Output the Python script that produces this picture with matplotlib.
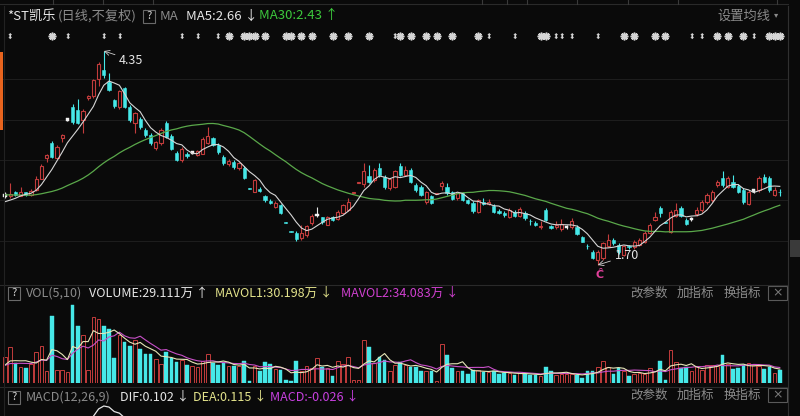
import numpy as np
import pandas as pd
import matplotlib.pyplot as plt
from matplotlib.lines import Line2D
from matplotlib.patches import Rectangle
import matplotlib.transforms as mtransforms

plt.rcParams['font.family'] = ['Noto Sans CJK SC', 'DejaVu Sans']

# daily candles, left to right (price in yuan, volume in 万 shares)
open_ = [2.56, 2.55, 2.60, 2.56, 2.60, 2.57, 2.63, 2.77, 3.02, 3.21,
         3.03, 3.27, 3.50, 3.66, 3.62, 3.50, 3.77, 3.79, 4.00, 4.12,
         3.97, 3.74, 3.66, 3.89, 3.66, 3.46, 3.51, 3.37, 3.31, 3.15,
         3.21, 3.46, 3.30, 3.09, 3.00, 3.07, 3.09, 3.06, 3.08, 3.21,
         3.27, 3.19, 3.04, 2.95, 2.98, 2.90, 2.90, 2.65, 2.61, 2.64,
         2.55, 2.49, 2.42, 2.44, 2.23, 2.12, 2.10, 2.03, 2.07, 2.22,
         2.32, 2.29, 2.20, 2.29, 2.27, 2.34, 2.38, 2.59, 2.72, 2.70,
         2.80, 2.75, 2.90, 2.79, 2.65, 2.67, 2.92, 2.82, 2.88, 2.69,
         2.67, 2.48, 2.55, 2.58, 2.68, 2.66, 2.60, 2.53, 2.59, 2.50,
         2.47, 2.36, 2.48, 2.46, 2.43, 2.37, 2.35, 2.30, 2.36, 2.31,
         2.35, 2.25, 2.22, 2.17, 2.38, 2.18, 2.17, 2.14, 2.17, 2.17,
         2.17, 2.05, 1.94, 1.86, 1.76, 1.79, 1.94, 2.01, 1.95, 1.83,
         1.93, 1.92, 1.95, 1.99, 2.10, 2.26, 2.40, 2.23, 2.11, 2.31,
         2.41, 2.26, 2.27, 2.33, 2.38, 2.48, 2.50, 2.69, 2.78, 2.67,
         2.73, 2.68, 2.63, 2.46, 2.62, 2.63, 2.79, 2.78, 2.57, 2.61]
close = [2.56, 2.58, 2.57, 2.60, 2.57, 2.62, 2.77, 2.92, 3.06, 3.04,
         3.16, 3.31, 3.50, 3.47, 3.46, 3.61, 3.79, 3.99, 4.19, 4.05,
         3.87, 3.67, 3.85, 3.66, 3.49, 3.58, 3.41, 3.31, 3.21, 3.22,
         3.37, 3.29, 3.14, 3.00, 3.14, 3.05, 3.09, 3.11, 3.26, 3.30,
         3.19, 3.10, 2.96, 2.99, 2.91, 2.96, 2.78, 2.64, 2.75, 2.62,
         2.50, 2.47, 2.47, 2.34, 2.22, 2.11, 2.02, 2.10, 2.18, 2.31,
         2.32, 2.23, 2.29, 2.26, 2.36, 2.44, 2.48, 2.60, 2.73, 2.86,
         2.73, 2.88, 2.81, 2.66, 2.76, 2.86, 2.82, 2.88, 2.73, 2.63,
         2.57, 2.60, 2.47, 2.59, 2.72, 2.59, 2.52, 2.59, 2.51, 2.47,
         2.37, 2.50, 2.46, 2.48, 2.36, 2.35, 2.32, 2.38, 2.31, 2.39,
         2.28, 2.24, 2.20, 2.18, 2.26, 2.16, 2.19, 2.21, 2.17, 2.25,
         2.09, 1.99, 1.93, 1.79, 1.86, 1.97, 2.01, 1.97, 1.86, 1.93,
         1.92, 1.99, 2.01, 2.10, 2.20, 2.29, 2.34, 2.22, 2.36, 2.38,
         2.31, 2.21, 2.27, 2.38, 2.48, 2.57, 2.61, 2.73, 2.69, 2.78,
         2.67, 2.61, 2.48, 2.61, 2.62, 2.78, 2.73, 2.63, 2.63, 2.60]
high = [2.60, 2.72, 2.62, 2.67, 2.61, 2.64, 2.80, 2.95, 3.08, 3.24,
        3.18, 3.32, 3.52, 3.70, 3.76, 3.63, 3.80, 4.00, 4.22, 4.35,
        4.08, 3.76, 3.87, 3.90, 3.68, 3.60, 3.53, 3.40, 3.33, 3.24,
        3.40, 3.48, 3.32, 3.11, 3.16, 3.10, 3.11, 3.13, 3.28, 3.41,
        3.29, 3.21, 3.06, 3.01, 3.00, 2.98, 2.92, 2.65, 2.77, 2.67,
        2.57, 2.52, 2.49, 2.46, 2.23, 2.12, 2.12, 2.20, 2.20, 2.33,
        2.42, 2.30, 2.31, 2.31, 2.38, 2.46, 2.53, 2.60, 2.73, 2.96,
        2.94, 2.90, 2.96, 2.81, 2.78, 2.88, 2.96, 2.93, 2.90, 2.71,
        2.69, 2.62, 2.57, 2.59, 2.74, 2.72, 2.62, 2.61, 2.61, 2.52,
        2.49, 2.52, 2.53, 2.52, 2.45, 2.39, 2.37, 2.40, 2.38, 2.42,
        2.37, 2.27, 2.24, 2.24, 2.40, 2.20, 2.24, 2.27, 2.19, 2.28,
        2.19, 2.06, 1.96, 1.88, 1.88, 1.99, 2.08, 2.03, 1.97, 1.95,
        1.95, 2.01, 2.03, 2.12, 2.22, 2.36, 2.43, 2.23, 2.38, 2.47,
        2.43, 2.28, 2.30, 2.42, 2.50, 2.59, 2.63, 2.75, 2.86, 2.80,
        2.82, 2.70, 2.65, 2.63, 2.64, 2.80, 2.83, 2.80, 2.66, 2.64]
low = [2.53, 2.53, 2.55, 2.55, 2.55, 2.56, 2.62, 2.76, 2.98, 3.02,
       3.02, 3.22, 3.48, 3.45, 3.44, 3.33, 3.74, 3.77, 3.92, 4.02,
       3.85, 3.65, 3.63, 3.64, 3.47, 3.33, 3.39, 3.29, 3.19, 3.12,
       3.19, 3.27, 3.12, 2.99, 2.98, 3.03, 3.07, 3.05, 3.07, 3.20,
       3.17, 3.08, 2.94, 2.93, 2.89, 2.88, 2.76, 2.64, 2.60, 2.60,
       2.48, 2.45, 2.41, 2.33, 2.22, 2.11, 2.00, 2.01, 2.05, 2.20,
       2.29, 2.21, 2.19, 2.25, 2.26, 2.33, 2.37, 2.59, 2.72, 2.67,
       2.71, 2.73, 2.79, 2.64, 2.63, 2.65, 2.80, 2.80, 2.71, 2.61,
       2.55, 2.45, 2.45, 2.58, 2.63, 2.57, 2.50, 2.51, 2.49, 2.45,
       2.35, 2.34, 2.44, 2.44, 2.34, 2.33, 2.30, 2.28, 2.29, 2.29,
       2.26, 2.20, 2.18, 2.15, 2.24, 2.14, 2.15, 2.12, 2.15, 2.15,
       2.07, 1.98, 1.90, 1.77, 1.70, 1.76, 1.92, 1.95, 1.84, 1.81,
       1.90, 1.90, 1.93, 1.97, 2.08, 2.24, 2.30, 2.22, 2.10, 2.29,
       2.29, 2.19, 2.24, 2.31, 2.36, 2.46, 2.48, 2.66, 2.67, 2.65,
       2.65, 2.59, 2.46, 2.44, 2.59, 2.61, 2.71, 2.61, 2.55, 2.56]
volume = [57, 78, 43, 34, 32, 42, 68, 82, 27, 147,
          29, 29, 25, 171, 124, 105, 29, 145, 140, 124,
          118, 54, 105, 90, 81, 95, 74, 63, 63, 53,
          42, 67, 55, 45, 51, 40, 38, 34, 49, 64,
          44, 40, 44, 37, 38, 37, 48, 5, 37, 27,
          46, 42, 31, 28, 6, 5, 49, 26, 37, 33,
          55, 35, 33, 16, 48, 42, 56, 7, 7, 95,
          78, 44, 56, 50, 27, 40, 45, 40, 34, 34,
          27, 27, 27, 5, 85, 61, 33, 27, 27, 20,
          29, 29, 24, 24, 26, 20, 22, 22, 18, 22,
          20, 18, 17, 15, 34, 26, 18, 20, 20, 20,
          17, 12, 27, 27, 34, 48, 34, 20, 33, 26,
          15, 20, 22, 20, 33, 26, 48, 7, 73, 45,
          33, 34, 26, 37, 29, 40, 40, 37, 61, 42,
          31, 33, 40, 44, 39, 37, 31, 34, 22, 29]

# sessions just left of the window, estimated from where MA5/MA30 and the
# volume averages start
prev_close = [2.60, 2.62, 2.61, 2.63, 2.60, 2.58, 2.59, 2.62, 2.64, 2.61,
              2.59, 2.57, 2.60, 2.62, 2.60, 2.58, 2.56, 2.57, 2.59, 2.58,
              2.56, 2.55, 2.54, 2.53, 2.51, 2.48, 2.46, 2.45, 2.47]
prev_vol = [38, 42, 30, 35, 45, 33, 40, 36, 31]

# info markers above the candles (candle index)
star_marks = [9, 43, 46, 47, 48, 50, 54, 55, 57, 59, 63, 66, 70, 76, 78, 81,
              83, 86, 91, 103, 104, 119, 121, 125, 127, 137, 139, 142, 147,
              148, 149]
arrow_marks = [1, 12, 19, 22, 34, 37, 41, 75, 93, 98, 106, 107, 109, 114,
               132, 134, 144]

W, H = 800, 416
BG = '#0a0a0a'
RED = '#c23c3c'
CYAN = '#46e8e8'
WHITE = '#e6e6e6'
GRAY = '#8a8a8a'
YELLOW = '#e4e48c'
MAGENTA = '#d040d0'
LINE = '#2a2a2a'

o = np.array(open_)
c = np.array(close)
h = np.array(high)
l = np.array(low)
v = np.array(volume, dtype=float)
x = np.arange(len(c))
n_prev = len(prev_close)

all_close = pd.Series(prev_close + close)
ma5 = all_close.rolling(5, min_periods=1).mean().values[n_prev:]
ma30 = all_close.rolling(30, min_periods=1).mean().values[n_prev:]
all_vol = pd.Series(prev_vol + volume, dtype=float)
mavol1 = all_vol.rolling(5, min_periods=1).mean().values[len(prev_vol):]
mavol2 = all_vol.rolling(10, min_periods=1).mean().values[len(prev_vol):]
ema12 = all_close.ewm(span=12, adjust=False).mean()
ema26 = all_close.ewm(span=26, adjust=False).mean()
dif = ema12 - ema26
dea = dif.ewm(span=9, adjust=False).mean()
dif = dif.values[n_prev:]
dea = dea.values[n_prev:]
hist = 2 * (dif - dea)

fig = plt.figure(figsize=(8, 4.16), dpi=100, facecolor=BG)


def box(x0, y0, x1, y1):
    return [x0 / W, 1 - y1 / H, (x1 - x0) / W, (y1 - y0) / H]


def fx(px):
    return px / W


def fy(py):
    return 1 - py / H


xlim = (-5 / 5.2, 783 / 5.2)

# ---- price panel
ax = fig.add_axes(box(0, 28, 788, 286))
ax.set_facecolor(BG)
ax.set_xlim(*xlim)
ax.set_ylim(1.44, 4.635)
ax.axis('off')
for g in [2.0, 2.5, 3.0, 3.5, 4.0]:
    ax.axhline(g, color='#1e1e1e', lw=0.7, zorder=0)

up = c > o
dn = c < o
fl = c == o
bw = 0.64
ax.vlines(x[up], l[up], h[up], color=RED, lw=0.8, zorder=1)
ax.vlines(x[dn], l[dn], h[dn], color=CYAN, lw=0.8, zorder=1)
ax.vlines(x[fl], l[fl], h[fl], color=WHITE, lw=0.8, zorder=1)
ax.bar(x[up], (c - o)[up], bottom=o[up], width=bw, facecolor=BG,
       edgecolor=RED, lw=0.8, zorder=2)
ax.bar(x[dn], (o - c)[dn], bottom=c[dn], width=bw, facecolor=CYAN,
       edgecolor=CYAN, lw=0.4, zorder=2)
ax.bar(x[fl], 0.035, bottom=c[fl] - 0.0175, width=bw, facecolor='#f2f2f2',
       edgecolor='#f2f2f2', lw=0.3, zorder=2)

ax.plot(x, ma30, color='#5aa84a', lw=0.9, zorder=3)
ax.plot(x, ma5, color='#d6d6d6', lw=0.8, zorder=3)

ih = int(np.argmax(h))
ax.annotate(f'{h[ih]:.2f}', xy=(ih, h[ih]), xytext=(11, -6.5),
            textcoords='offset points', ha='left', va='center',
            color=WHITE, fontsize=9,
            arrowprops=dict(arrowstyle='->', color='#cfcfcf', lw=0.6,
                            shrinkA=1, shrinkB=0))
il = int(np.argmin(l))
ax.annotate(f'{l[il]:.2f}', xy=(il, l[il]), xytext=(12, 6.5),
            textcoords='offset points', ha='left', va='center',
            color=WHITE, fontsize=9,
            arrowprops=dict(arrowstyle='->', color='#cfcfcf', lw=0.6,
                            shrinkA=1, shrinkB=0))
ax.annotate('Ĉ', xy=(il, l[il]), xytext=(1, -6.5), textcoords='offset points',
            ha='center', va='center', color='#e0409a', fontsize=8,
            fontweight='bold')

# marker row
mark_tr = mtransforms.blended_transform_factory(ax.transData, fig.transFigure)
ax.plot(star_marks, [fy(36)] * len(star_marks), linestyle='none',
        marker=(8, 2, 0), markersize=5.5, markeredgewidth=1.2,
        color='#d4d4d4', transform=mark_tr, clip_on=False)
for m in arrow_marks:
    ax.text(m, fy(36), '⬍', transform=mark_tr, ha='center', va='center',
            color='#d4d4d4', fontsize=5.5, family=['DejaVu Sans'],
            clip_on=False)

# ---- volume panel
axv = fig.add_axes(box(0, 300, 788, 383))
axv.set_facecolor(BG)
axv.set_xlim(*xlim)
axv.set_ylim(0, 182)
axv.axis('off')
vu = c >= o
axv.bar(x[vu], v[vu], width=0.66, facecolor=BG, edgecolor=RED, lw=0.7)
axv.bar(x[~vu], v[~vu], width=0.66, facecolor=CYAN, edgecolor=CYAN, lw=0.3)
axv.plot(x, mavol2, color='#c850c8', lw=0.8)
axv.plot(x, mavol1, color='#e6e6b8', lw=0.8)

# ---- macd panel: only the top of it shows at the bottom edge
axm = fig.add_axes(box(0, 400, 788, 416))
axm.set_xlim(*xlim)
s = 0.0055  # DIF units per pixel
top = dif.max() + 6 * s
axm.set_ylim(top - 16 * s, top)
axm.axis('off')
axm.vlines(x[hist >= 0], 0, hist[hist >= 0], color=RED, lw=0.8)
axm.vlines(x[hist < 0], 0, hist[hist < 0], color=CYAN, lw=0.8)
axm.plot(x, dea, color=YELLOW, lw=0.9)
axm.plot(x, dif, color=WHITE, lw=0.9)

# ---- frame lines and blocks
for yy in [4, 284.5, 386.5]:
    fig.add_artist(Line2D([0, fx(788)], [fy(yy), fy(yy)], color=LINE, lw=0.8))
fig.add_artist(Line2D([fx(788), fx(788)], [fy(6), 0], color='#303030', lw=0.8))
fig.add_artist(Line2D([fx(3.5), fx(3.5)], [fy(6), 0], color='#222222', lw=0.8))
for tx in [53, 103, 153, 482, 507, 527, 577, 628, 678, 777]:
    fig.add_artist(Line2D([fx(tx), fx(tx)], [1, fy(4)], color='#3a3a3a', lw=0.8))
fig.add_artist(Rectangle((0, fy(130)), fx(3), (130 - 52) / H,
                         transform=fig.transFigure, color='#e8641e', lw=0))
fig.add_artist(Rectangle((fx(790), fy(257)), fx(10), 17 / H,
                         transform=fig.transFigure, color='#3a3a3a', lw=0))


def qbox(x0, yc):
    fig.add_artist(Rectangle((fx(x0), fy(yc + 6.5)), 12 / W, 13 / H,
                             transform=fig.transFigure, fill=False,
                             ec='#6a6a6a', lw=0.8))
    fig.text(fx(x0 + 6), fy(yc), '?', color='#d0d0d0', fontsize=8,
             ha='center', va='center')


def xbox(yc):
    fig.add_artist(Rectangle((fx(768), fy(yc + 7)), 19 / W, 14 / H,
                             transform=fig.transFigure, fill=False,
                             ec='#5a5a5a', lw=0.8))
    fig.text(fx(777.5), fy(yc), '×', color='#7a7a7a', fontsize=9,
             ha='center', va='center', family=['DejaVu Sans'])


def row(items, yc, size=9.5):
    for px, txt, col in items:
        fig.text(fx(px), fy(yc), txt, color=col, fontsize=size,
                 ha='left', va='center')


# title row
row([(7, '*ST凯乐', WHITE), (58, '(日线,不复权)', GRAY), (160, 'MA', GRAY),
     (186, 'MA5:2.66 ↓', WHITE), (259, 'MA30:2.43 ↑', '#3cc83c'),
     (717, '设置均线', GRAY)], 16)
fig.text(fx(776), fy(15), '▾', color=GRAY, fontsize=6, ha='center',
         va='center', family=['DejaVu Sans'])
qbox(143, 16)

# volume header
row([(26, 'VOL(5,10)', GRAY), (89, 'VOLUME:29.111万 ↑', WHITE),
     (215, 'MAVOL1:30.198万 ↓', YELLOW), (341, 'MAVOL2:34.083万 ↓', MAGENTA),
     (630, '改参数', GRAY), (677, '加指标', GRAY), (724, '换指标', GRAY)],
    293, 9)
qbox(8, 293)
xbox(293)

# macd header
row([(26, 'MACD(12,26,9)', GRAY), (120, 'DIF:0.102 ↓', WHITE),
     (193, 'DEA:0.115 ↓', YELLOW), (270, 'MACD:-0.026 ↓', '#c840e0')],
    397, 9)
row([(630, '改参数', GRAY), (677, '加指标', GRAY), (724, '换指标', GRAY)],
    395, 9)
qbox(8, 397)
xbox(395)

fig.savefig('out.png', dpi=100, facecolor=BG)
